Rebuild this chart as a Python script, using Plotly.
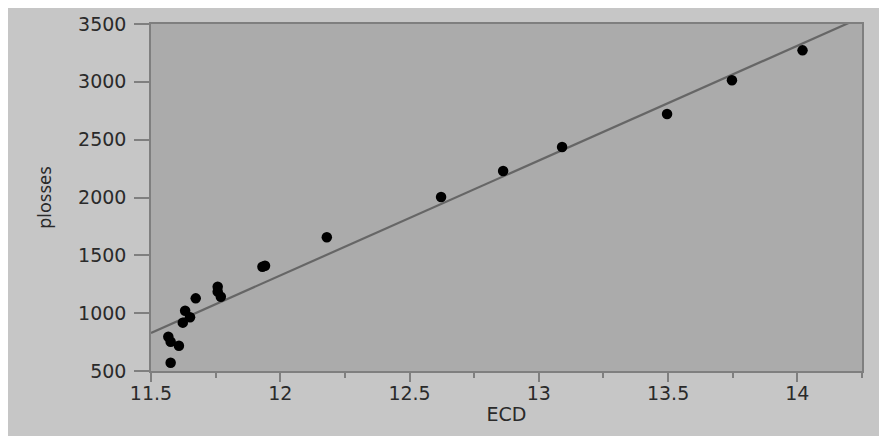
import numpy as np
import plotly.graph_objects as go

ecd = [11.567, 11.576, 11.608, 11.576, 11.623, 11.651, 11.632, 11.673, 11.758, 11.758,
       11.770, 11.931, 11.941, 12.180, 12.622, 12.862, 13.090, 13.496, 13.747, 14.020]
plosses = [796, 753, 719, 572, 918, 964, 1021, 1128, 1229, 1186,
           1142, 1402, 1410, 1656, 2004, 2229, 2437, 2722, 3013, 3272]

x_range = [11.5, 14.25]
y_range = [500, 3500]
x_ticks = [11.5, 12, 12.5, 13, 13.5, 14]
x_ticktext = ["11.5", "12", "12.5", "13", "13.5", "14"]
y_ticks = [500, 1000, 1500, 2000, 2500, 3000, 3500]

slope, intercept = np.polyfit(ecd, plosses, 1)
fit_x = np.array(x_range)
fit_y = intercept + slope * fit_x

FONT = "DejaVu Sans"
TXT = "#2a2a2a"
AX = "#7f7f7f"

fig = go.Figure()
fig.add_trace(go.Scatter(x=fit_x, y=fit_y, mode="lines",
                         line=dict(color="#666666", width=2.2), hoverinfo="skip"))
fig.add_trace(go.Scatter(x=ecd, y=plosses, mode="markers",
                         marker=dict(color="black", size=10.5)))

fig.update_layout(
    width=879, height=428,
    margin=dict(l=143, r=25, t=16, b=65),
    paper_bgcolor="#c6c6c6",
    plot_bgcolor="#ababab",
    showlegend=False,
    font=dict(family=FONT, size=19, color=TXT),
)
fig.update_xaxes(
    range=x_range, tickvals=x_ticks, ticktext=x_ticktext,
    showgrid=False, zeroline=False,
    showline=True, linecolor=AX, linewidth=1.5, mirror=True,
    ticks="outside", ticklen=9, tickcolor=AX, tickwidth=1.5,
    ticklabelstandoff=-5,
    minor=dict(dtick=0.25, tick0=11.5, ticks="outside", ticklen=5, tickcolor=AX, tickwidth=1.5, showgrid=False),
    tickfont=dict(family=FONT, size=19, color=TXT),
    title=dict(text="ECD", font=dict(family=FONT, size=19, color=TXT), standoff=5),
    automargin=False,
)
fig.update_yaxes(
    range=y_range, tickvals=y_ticks,
    showgrid=False, zeroline=False,
    showline=True, linecolor=AX, linewidth=1.5, mirror=True,
    ticks="outside", ticklen=15, tickcolor=AX, tickwidth=1.5,
    ticklabelstandoff=4,
    tickfont=dict(family=FONT, size=19, color=TXT),
    title=dict(text="plosses", font=dict(family="Noto Sans", size=18, color=TXT), standoff=22),
    automargin=False,
)

fig.write_html("out.html")
